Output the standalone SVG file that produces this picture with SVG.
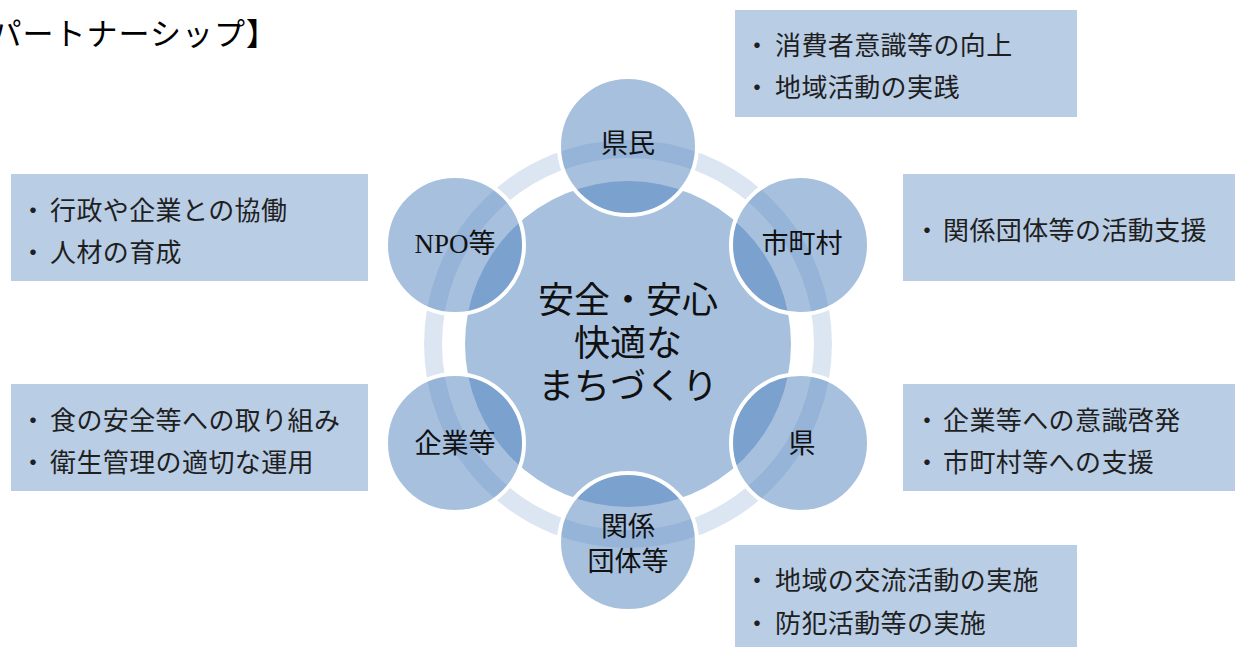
<svg xmlns="http://www.w3.org/2000/svg" width="1235" height="647" viewBox="0 0 1235 647">
<style>
.box{fill:#b9cde5}
.bt{font-family:"Noto Sans CJK JP","Noto Sans",sans-serif;font-size:26px;letter-spacing:0.4px;fill:#1f1f1f}
.bl{font-family:"Noto Sans CJK JP",sans-serif;font-size:26px;fill:#1f1f1f;text-anchor:middle}
.sc{fill:#4f81bd;fill-opacity:0.5;stroke:#ffffff;stroke-width:4}
.lb{font-family:"Noto Sans CJK JP",sans-serif;font-size:27px;fill:#111;text-anchor:middle}
.ct{font-family:"Noto Sans CJK JP",sans-serif;font-size:36px;fill:#111;text-anchor:middle}
</style>
<rect width="1235" height="647" fill="#ffffff"/>
<text x="278" y="45" text-anchor="end" font-family="'Noto Sans CJK JP',sans-serif" font-size="31" letter-spacing="1" fill="#000">パートナーシップ】</text>

<g id="connectors">
  <circle cx="628" cy="344" r="195" fill="none" stroke="#dce6f2" stroke-width="18"/>
</g>

<g id="center">
  <circle cx="628" cy="344" r="163" fill="#a7c0de"/>
  <text class="ct" x="628" y="313">安全・安心<tspan x="628" dy="43">快適な</tspan><tspan x="628" dy="43">まちづくり</tspan></text>
</g>

<g id="node-kenmin">
  <circle class="sc" cx="628" cy="146" r="69"/>
  <text class="lb" x="628" y="153">県民</text>
</g>
<g id="node-shichoson">
  <circle class="sc" cx="800" cy="245" r="69"/>
  <text class="lb" x="802" y="253">市町村</text>
</g>
<g id="node-ken">
  <circle class="sc" cx="800" cy="443" r="69"/>
  <text class="lb" x="802" y="453">県</text>
</g>
<g id="node-kankeidantai">
  <circle class="sc" cx="628" cy="542" r="69"/>
  <text class="lb" x="628" y="536">関係<tspan x="628" dy="35">団体等</tspan></text>
</g>
<g id="node-kigyo">
  <circle class="sc" cx="455" cy="443" r="69"/>
  <text class="lb" x="455" y="453">企業等</text>
</g>
<g id="node-npo">
  <circle class="sc" cx="455" cy="245" r="69"/>
  <text class="lb" x="455" y="253"><tspan font-family="'Liberation Serif',serif">NPO</tspan>等</text>
</g>

<g id="box-kenmin">
  <rect class="box" x="735" y="10" width="342" height="107"/>
  <text class="bl" x="757" y="55">・</text><text class="bt" x="775" y="55">消費者意識等の向上</text>
  <text class="bl" x="757" y="97">・</text><text class="bt" x="775" y="97">地域活動の実践</text>
</g>
<g id="box-shichoson">
  <rect class="box" x="903" y="174" width="332" height="107"/>
  <text class="bl" x="927" y="240">・</text><text class="bt" x="943" y="240">関係団体等の活動支援</text>
</g>
<g id="box-npo">
  <rect class="box" x="11" y="174" width="357" height="107"/>
  <text class="bl" x="33" y="220">・</text><text class="bt" x="50" y="220">行政や企業との協働</text>
  <text class="bl" x="33" y="262">・</text><text class="bt" x="50" y="262">人材の育成</text>
</g>
<g id="box-kigyo">
  <rect class="box" x="11" y="384" width="357" height="107"/>
  <text class="bl" x="33" y="430">・</text><text class="bt" x="50" y="430">食の安全等への取り組み</text>
  <text class="bl" x="33" y="472">・</text><text class="bt" x="50" y="472">衛生管理の適切な運用</text>
</g>
<g id="box-ken">
  <rect class="box" x="903" y="384" width="332" height="107"/>
  <text class="bl" x="927" y="430">・</text><text class="bt" x="943" y="430">企業等への意識啓発</text>
  <text class="bl" x="927" y="472">・</text><text class="bt" x="943" y="472">市町村等への支援</text>
</g>
<g id="box-kankeidantai">
  <rect class="box" x="735" y="545" width="342" height="102"/>
  <text class="bl" x="757" y="590">・</text><text class="bt" x="775" y="590">地域の交流活動の実施</text>
  <text class="bl" x="757" y="633">・</text><text class="bt" x="775" y="633">防犯活動等の実施</text>
</g>
</svg>
